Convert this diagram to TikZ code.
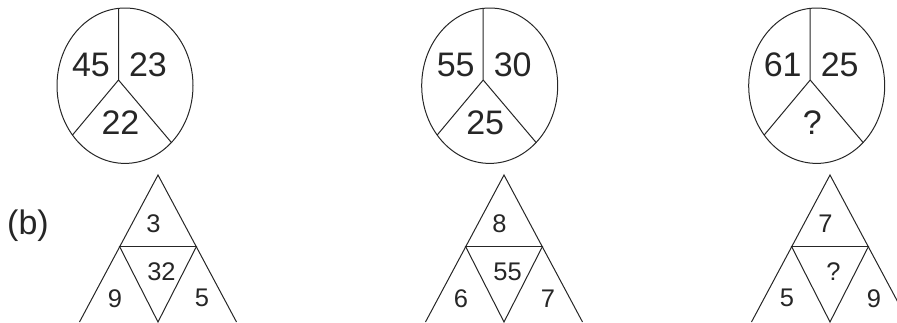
\documentclass[tikz,border=0pt]{standalone}
\usepackage{fontspec}
\setmainfont{Liberation Sans}
\usetikzlibrary{shapes.geometric}
\begin{document}
\begin{tikzpicture}[x=1pt,y=-1pt,
  line/.style={line width=1pt,black!85},
  pie/.style={ellipse,draw,line width=1pt,black!85,minimum width=136pt,minimum height=155.4pt,inner sep=0pt},
  bignum/.style={inner sep=0pt,font=\fontsize{34}{34}\selectfont,text=black!85},
  smallnum/.style={inner sep=0pt,font=\fontsize{25.5}{25.5}\selectfont,text=black!85}]
\useasboundingbox (0,0) rectangle (897,322);
\clip (0,0) rectangle (897,322);
% circles
\foreach \i/\cx/\a/\b/\c in {1/125/45/23/22, 2/489.7/55/30/25, 3/816.7/61/25/?}{
  \node[pie] (e\i) at (\cx,85.7) {};
  \coordinate (j\i) at (\cx-6.5,80);
  \coordinate (t\i) at (\cx-6.5,8.4);
  \coordinate (l\i) at (\cx-52.5,135);
  \coordinate (r\i) at (\cx+46.5,142.6);
  \draw[line] (t\i) -- (j\i) (l\i) -- (j\i) -- (r\i);
  \node[bignum] (na\i) at (\cx-34,65) {\a};
  \node[bignum] (nb\i) at (\cx+23,65) {\b};
  \node[bignum] (nc\i) at (\cx-4.5,123) {\c};
}
% label
\node[bignum] (lb) at (28,225.8) {(b)};
% triangles
\foreach \i/\cx/\a/\b/\c/\d in {1/158/3/32/9/5, 2/504/8/55/6/7, 3/830/7/?/5/9}{
  \coordinate (A\i) at (\cx,175);
  \coordinate (L\i) at (\cx-38.7,246);
  \coordinate (R\i) at (\cx+38.7,246);
  \coordinate (B\i) at (\cx,322);
  \coordinate (BL\i) at (\cx-78.5,322);
  \coordinate (BR\i) at (\cx+78.5,322);
  \draw[line] (BL\i) -- (A\i) -- (BR\i);
  \draw[line] (L\i) -- (R\i);
  \draw[line] (L\i) -- (B\i) -- (R\i);
  \node[smallnum] (ta\i) at (\cx-4.5,223.3) {\a};
  \node[smallnum] (tb\i) at (\cx+3.5,271.7) {\b};
  \node[smallnum] (tc\i) at (\cx-43,298.3) {\c};
  \node[smallnum] (td\i) at (\cx+44,298.3) {\d};
}
\end{tikzpicture}
\end{document}
